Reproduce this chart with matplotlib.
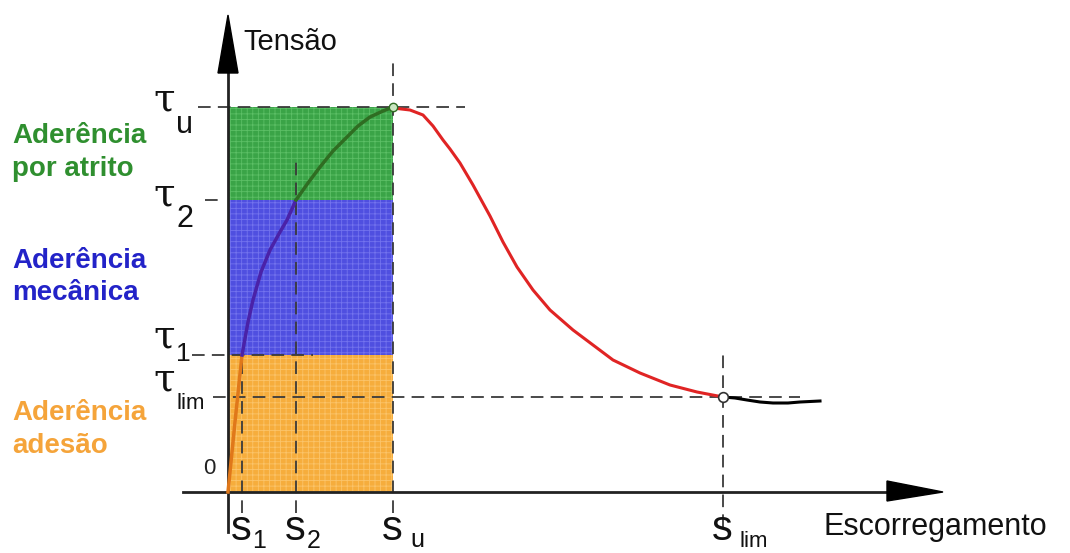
import matplotlib
matplotlib.use("Agg")
import matplotlib.pyplot as plt
import matplotlib.patches as mpatches

# characteristic slips and stresses (arbitrary units)
s1, s2, su, slim = 0.14, 0.68, 1.65, 4.95
tau_1, tau_2, tau_u, tau_lim = 1.37, 2.92, 3.85, 0.95

# bond-slip curve in pieces
adh_x = [0.0, 0.07, 0.14]
adh_y = [0.0, 0.70, 1.37]
mec_x = [0.14, 0.20, 0.25, 0.33, 0.42, 0.52, 0.59, 0.68]
mec_y = [1.37, 1.70, 1.92, 2.20, 2.42, 2.60, 2.72, 2.92]
fric_x = [0.68, 0.80, 0.92, 1.05, 1.19, 1.30, 1.42, 1.55, 1.65]
fric_y = [2.92, 3.09, 3.25, 3.41, 3.55, 3.66, 3.75, 3.81, 3.85]
soft_x = [1.65, 1.82, 1.95, 2.05, 2.15, 2.22, 2.32, 2.45, 2.62, 2.75, 2.89, 3.05,
          3.22, 3.45, 3.65, 3.85, 4.12, 4.42, 4.69, 4.95]
soft_y = [3.84, 3.82, 3.77, 3.66, 3.52, 3.43, 3.29, 3.07, 2.76, 2.50, 2.25, 2.02,
          1.82, 1.62, 1.47, 1.32, 1.19, 1.07, 1.00, 0.95]
res_x = [4.95, 5.07, 5.19, 5.32, 5.45, 5.60, 5.72, 5.92]
res_y = [0.95, 0.94, 0.92, 0.90, 0.89, 0.89, 0.90, 0.91]

W, H = 1070, 553
plt.rcParams['font.family'] = ['Liberation Sans', 'DejaVu Sans']
plt.rcParams['hatch.linewidth'] = 0.6

fig = plt.figure(figsize=(W / 100, H / 100), dpi=100)
ax = fig.add_axes([0, 0, 1, 1])
ax.set_xlim(-2.28, 8.42)
ax.set_ylim(-0.61, 4.92)
ax.axis('off')


def fpos(px, py):
    # pixel position -> figure fraction
    return px / W, 1 - py / H


# coloured zones
zones = [(0, tau_1, '#f6ad3c', '#fbc46a'),
         (tau_1, tau_2, '#4f4fe0', '#7373ee'),
         (tau_2, tau_u, '#3aa447', '#5cbf66')]
for lo, hi, fc, hc in zones:
    ax.fill_between([0, su], lo, hi, facecolor=fc, edgecolor=hc,
                    hatch='+++', linewidth=0, zorder=1)

dash = dict(color='#3a3a3a', lw=1.3, ls=(0, (7, 4)), zorder=2)
ax.plot([su, su], [-0.21, 4.30], **dash)
ax.plot([s1, s1], [-0.21, tau_1], **dash)
ax.plot([s2, s2], [-0.21, 3.35], **dash)
ax.plot([slim, slim], [-0.35, 1.42], **dash)
ax.plot([-0.30, 2.37], [tau_u, tau_u], **dash)
ax.plot([-0.23, -0.05], [tau_2, tau_2], **dash)
ax.plot([-0.36, 0.85], [tau_1, tau_1], **dash)
ax.plot([-0.15, 5.72], [tau_lim, tau_lim], **dash)

# axes with arrow heads
ax.plot([0, 0], [-0.40, 4.25], color='#222222', lw=2, zorder=4)
ax.plot([-0.45, 6.65], [0, 0], color='#222222', lw=2, zorder=4)
ax.add_patch(mpatches.Polygon([(0, 4.77), (-0.10, 4.19), (0.10, 4.19)],
                              closed=True, color='black', zorder=5))
ax.add_patch(mpatches.Polygon([(7.15, 0), (6.59, 0.11), (6.59, -0.09)],
                              closed=True, color='black', zorder=5))

# curve
ax.plot(adh_x, adh_y, color='#e0781a', lw=2.5, zorder=6)
ax.plot(mec_x, mec_y, color='#4a22a8', lw=2.5, zorder=6)
ax.plot(fric_x, fric_y, color='#2f6d22', lw=2.5, zorder=6)
ax.plot(soft_x, soft_y, color='#e02424', lw=2.2, zorder=6)
ax.plot(res_x, res_y, color='black', lw=2.2, zorder=6)
ax.plot([su], [tau_u], 'o', ms=6, mfc='#c9e6c0', mec='#2f6d22', mew=1, zorder=7)
ax.plot([slim], [tau_lim], 'o', ms=7, mfc='white', mec='#333333', mew=1.2, zorder=7)

# axis titles
fig.text(*fpos(243, 50), 'Tensão', fontsize=21, va='baseline', color='#111111')
fig.text(*fpos(823, 535), 'Escorregamento', fontsize=22, va='baseline', color='#111111')
fig.text(*fpos(203, 474), '0', fontsize=16, va='baseline', color='#222222')

# tau labels
serif = ['DejaVu Serif']
for py, sub, sy, ssz in [(110, 'u', 133, 22), (205, '2', 227, 22),
                         (347, '1', 361, 19), (390, 'lim', 409, 16)]:
    fig.text(*fpos(153, py), 'τ', fontsize=28, family=serif, va='baseline', color='#111111')
    fig.text(*fpos(176, sy), sub, fontsize=ssz, va='baseline', color='#111111')

# slip labels
for xv, sub, dx, sy, ssz in [(s1, '1', 0.10, -0.56, 18), (s2, '2', 0.11, -0.56, 18),
                             (su, 'u', 0.17, -0.55, 18), (slim, 'lim', 0.16, -0.55, 16)]:
    ax.text(xv - 0.01, -0.48, 's', fontsize=30, ha='center', va='baseline', color='#111111')
    ax.text(xv + dx, sy, sub, fontsize=ssz, ha='left', va='baseline', color='#111111')

# zone names
for py, txt, col in [(143, 'Aderência', '#2f8f2f'), (176, 'por atrito', '#2f8f2f'),
                     (268, 'Aderência', '#2323c8'), (300, 'mecânica', '#2323c8'),
                     (420, 'Aderência', '#f5a43a'), (453, 'adesão', '#f5a43a')]:
    fig.text(*fpos(12, py), txt, fontsize=20, fontweight='bold', color=col, va='baseline')

fig.savefig('out.png', dpi=100)
